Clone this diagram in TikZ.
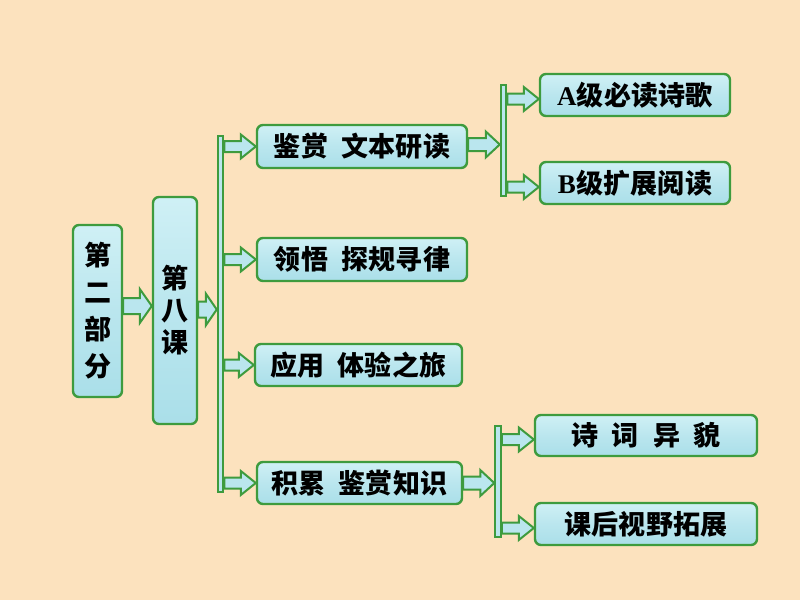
\documentclass[tikz,border=0pt]{standalone}
\usepackage{fontspec}
\newfontfamily\cjk{Noto Sans CJK SC}
\newfontfamily\latf{Liberation Serif}
\usetikzlibrary{calc}
\definecolor{bg}{HTML}{FCE2BE}
\definecolor{grn}{HTML}{3E9B3E}
\definecolor{cyl}{HTML}{CFF0F5}
\definecolor{cym}{HTML}{BAE6EE}
\definecolor{cyd}{HTML}{AADFE9}
\newcommand\gp{\kern0.3pt}
\newcommand\blockarr[5]{%
  \path[barrow] let \p1=(#1), \p2=(#2) in
  (\x1,{\y1+#3}) -- ({\x2-#5},{\y1+#3}) -- ({\x2-#5},{\y1+#4}) -- (\x2,\y1)
  -- ({\x2-#5},{\y1-#4}) -- ({\x2-#5},{\y1-#3}) -- (\x1,{\y1-#3}) -- cycle;}
\tikzset{
  box/.style={draw=grn, line width=2.4pt, rounded corners=6pt,
    top color=cyl, bottom color=cyd, middle color=cym, inner sep=0pt,
    font=\cjk\bfseries\fontsize{27}{30}\selectfont, text=black},
  vbox/.style={box, align=center},
  bar/.style={draw=grn, line width=2pt, fill=cym, inner sep=0pt,
    minimum width=5.5pt},
  barrow/.style={draw=grn, line width=2pt, fill=cym, line join=miter},
}
\begin{document}
\begin{tikzpicture}[x=1pt,y=-1pt]
\fill[bg] (0,0) rectangle (800,600);
\useasboundingbox (0,0) rectangle (800,600);
% first column
\node[vbox, minimum width=49pt, minimum height=172pt,
  font=\cjk\bfseries\fontsize{27}{37}\selectfont] (b1) at (97.5,311) {第\\二\\部\\分};
\node[vbox, minimum width=44pt, minimum height=227pt,
  font=\cjk\bfseries\fontsize{27}{32}\selectfont] (b2) at (175,310.5) {第\\八\\课};
\node[bar, minimum height=356pt] (bar1) at (220.5,314) {};
% second column
\node[box, minimum width=210pt, minimum height=43pt] (b3) at (362,146.5)
  {鉴\gp 赏\hspace{13pt}文\gp 本\gp 研\gp 读};
\node[box, minimum width=210pt, minimum height=43pt] (b4) at (362,259.5)
  {领\gp 悟\hspace{13pt}探\gp 规\gp 寻\gp 律};
\node[box, minimum width=207pt, minimum height=42pt] (b5) at (358.5,365)
  {应\gp 用\hspace{13pt}体\gp 验\gp 之\gp 旅};
\node[box, minimum width=205pt, minimum height=42pt] (b6) at (359.5,483)
  {积\gp 累\hspace{13pt}鉴\gp 赏\gp 知\gp 识};
% third column
\node[bar, minimum height=111pt] (bar2) at (503.5,140.5) {};
\node[box, minimum width=190pt, minimum height=42pt] (bA) at (635,95)
  {{\latf\bfseries A}\gp 级\gp 必\gp 读\gp 诗\gp 歌};
\node[box, minimum width=190pt, minimum height=42pt] (bB) at (635,183)
  {{\latf\bfseries B}\gp 级\gp 扩\gp 展\gp 阅\gp 读};
\node[bar, minimum height=111pt] (bar3) at (498,481.5) {};
\node[box, minimum width=222pt, minimum height=41pt] (bC) at (646,435.5)
  {诗\hspace{14pt}词\hspace{14pt}异\hspace{14pt}貌};
\node[box, minimum width=222pt, minimum height=42pt] (bD) at (646,524)
  {课\gp 后\gp 视\gp 野\gp 拓\gp 展};
% block arrows
\blockarr{$(b1.east)+(0,-5)$}{$(b2.west)+(0,-5)$}{8pt}{17pt}{12pt}
\blockarr{$(b2.east)+(0,-1)$}{$(bar1.west)+(0,-1)$}{8pt}{16pt}{11pt}
\blockarr{bar1.east |- b3.west}{b3.west}{5.5pt}{12pt}{15pt}
\blockarr{bar1.east |- b4.west}{b4.west}{5.5pt}{12pt}{15pt}
\blockarr{bar1.east |- b5.west}{b5.west}{5.5pt}{12pt}{15pt}
\blockarr{bar1.east |- b6.west}{b6.west}{5.5pt}{12pt}{15pt}
\blockarr{$(b3.east)+(0,-2)$}{$(bar2.west |- b3.east)+(0,-2)$}{6.5pt}{13pt}{14pt}
\blockarr{$(bar2.east |- bA.west)+(0,4)$}{$(bA.west)+(0,4)$}{5.5pt}{12pt}{15pt}
\blockarr{$(bar2.east |- bB.west)+(0,4)$}{$(bB.west)+(0,4)$}{5.5pt}{12pt}{15pt}
\blockarr{b6.east}{bar3.west |- b6.east}{6.5pt}{13pt}{14pt}
\blockarr{$(bar3.east |- bC.west)+(0,4)$}{$(bC.west)+(0,4)$}{5.5pt}{12pt}{15pt}
\blockarr{$(bar3.east |- bD.west)+(0,4)$}{$(bD.west)+(0,4)$}{5.5pt}{12pt}{15pt}
\end{tikzpicture}
\end{document}
